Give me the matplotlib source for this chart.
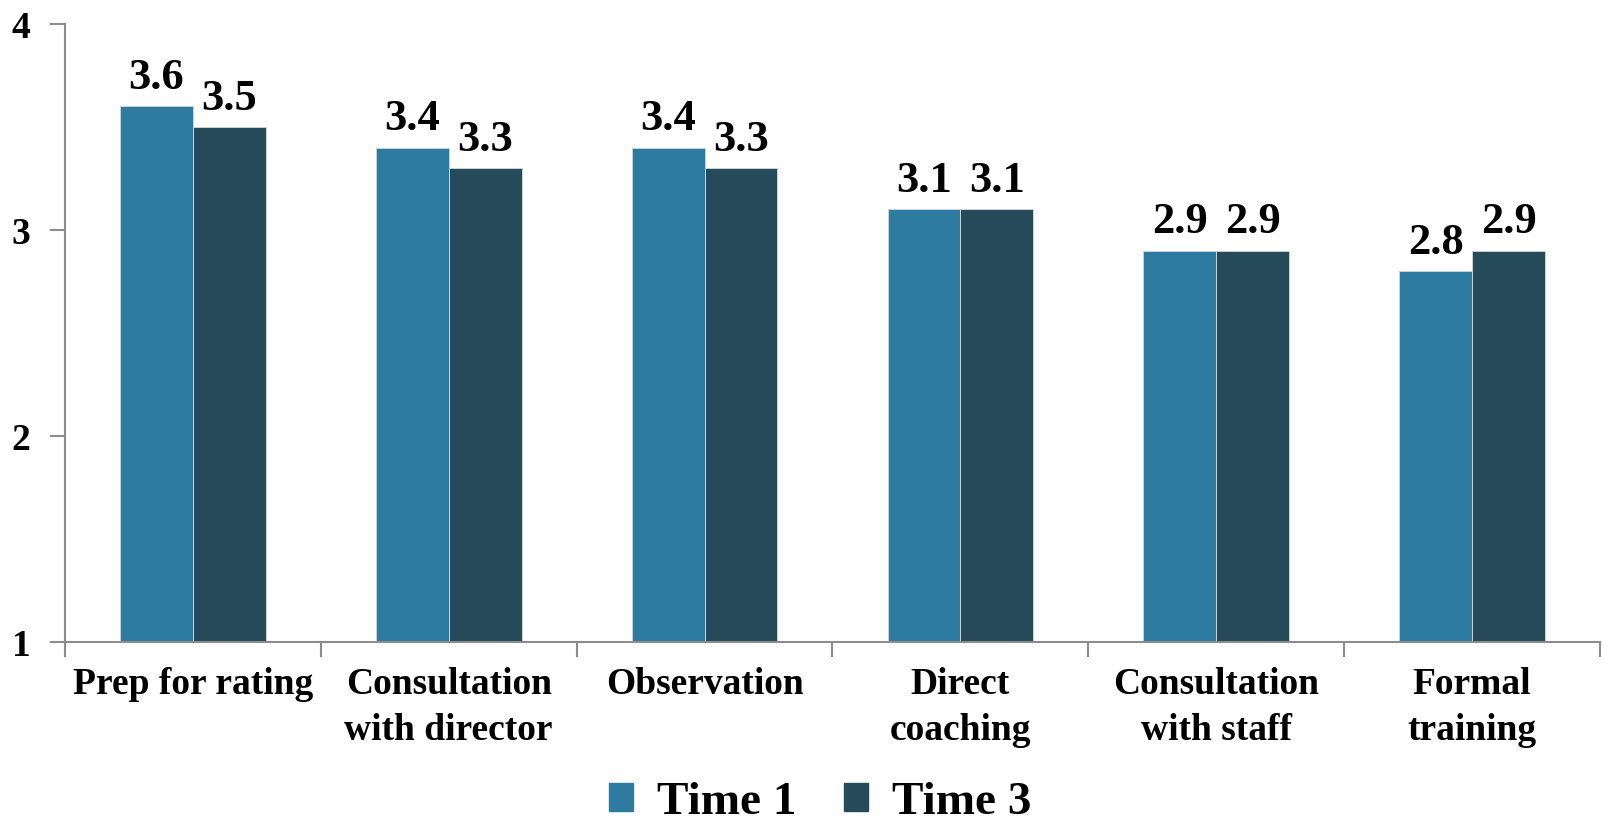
import matplotlib
matplotlib.use("Agg")
import matplotlib.pyplot as plt
import numpy as np
from matplotlib.patches import Rectangle

categories = ["Prep for rating", "Consultation\nwith director", "Observation",
              "Direct\ncoaching", "Consultation\nwith staff", "Formal\ntraining"]
series_names = ["Time 1", "Time 3"]
time1 = [3.6, 3.4, 3.4, 3.1, 2.9, 2.8]
time3 = [3.5, 3.3, 3.3, 3.1, 2.9, 2.9]
y_ticks = [1, 2, 3, 4]

colors = ["#2D7BA0", "#254A5A"]
plt.rcParams["font.family"] = "serif"
plt.rcParams["font.serif"] = ["Liberation Serif", "Times New Roman", "DejaVu Serif"]
plt.rcParams["font.weight"] = "bold"

fig = plt.figure(figsize=(16.04, 8.24), dpi=100)
ax = fig.add_axes([65 / 1604, 182 / 824, 1535 / 1604, 618 / 824])

x = np.arange(len(categories))
w = 0.285
for vals, off, col in ((time1, -w / 2, colors[0]), (time3, w / 2, colors[1])):
    bars = ax.bar(x + off, np.array(vals) - 1, width=w, bottom=1, color=col,
                  edgecolor="#c9d4d9", linewidth=0.7)
    for b, v in zip(bars, vals):
        ax.annotate(f"{v:.1f}", (b.get_x() + b.get_width() / 2, v),
                    xytext=(0, 6), textcoords="offset points",
                    ha="center", va="bottom", fontsize=32, fontweight="bold")

ax.set_xlim(-0.5, len(categories) - 0.5)
ax.set_ylim(1, 4)
ax.set_yticks(y_ticks)
ax.set_yticklabels([str(t) for t in y_ticks], fontsize=27, fontweight="bold")
ax.set_xticks(np.arange(len(categories) + 1) - 0.5, minor=False)
ax.set_xticklabels([])
ax.set_xticks(x, minor=True)
ax.set_xticklabels(categories, minor=True, fontsize=27, fontweight="bold", va="top")
for lbl in ax.get_xticklabels(minor=True):
    lbl.set_linespacing(1.4)
ax.tick_params(axis="x", which="minor", length=0, pad=18)
ax.tick_params(axis="x", which="major", length=11, width=1.5, color="#8c8c8c")
ax.tick_params(axis="y", length=11, width=1.5, color="#8c8c8c", pad=14)
for s in ("top", "right"):
    ax.spines[s].set_visible(False)
for s in ("left", "bottom"):
    ax.spines[s].set_color("#8c8c8c")
    ax.spines[s].set_linewidth(1.5)

handles = [Rectangle((0, 0), 1, 1, color=c) for c in colors]
fig.legend(handles, series_names, loc="center", bbox_to_anchor=(820 / 1604, 1 - 803 / 824),
           ncol=2, frameon=False, prop={"size": 34, "weight": "bold"},
           handlelength=0.52, handleheight=0.52, handletextpad=0.5, columnspacing=1.0,
           borderpad=0.1)

fig.savefig("out.png", dpi=100)
